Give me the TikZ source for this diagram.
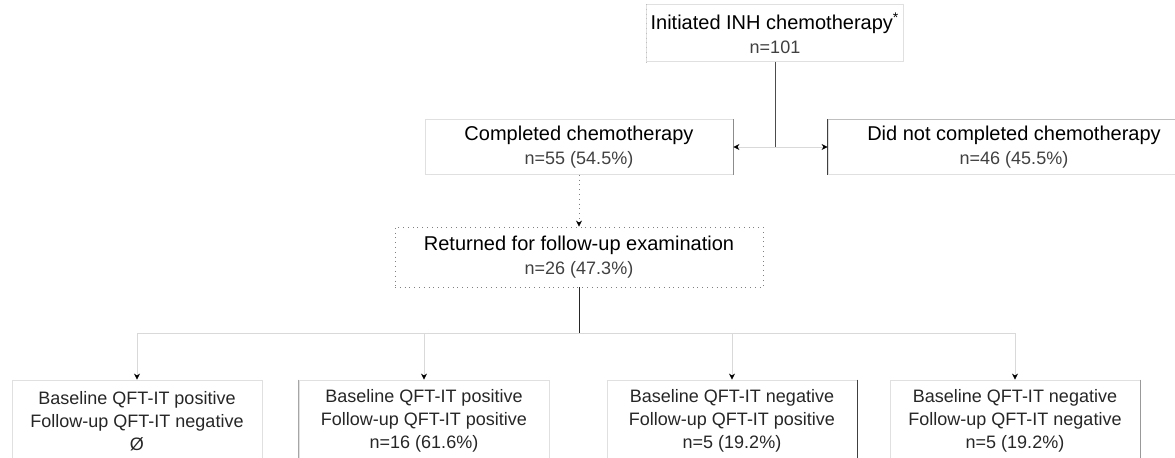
\documentclass[tikz,border=0pt]{standalone}
\usepackage{fontspec}
\setmainfont{Liberation Sans}
\usepackage{tikz}
\usetikzlibrary{positioning,arrows.meta}

\newcommand{\ncount}[1]{{\fontsize{9}{12}\selectfont\color{black!75}#1}}

\begin{document}
\begin{tikzpicture}[x=0.5pt,y=-0.5pt,on grid,
    >={Stealth[length=3pt,width=3pt,color=black]},
    hbox/.style={draw=black!12,align=center,font=\fontsize{10}{12}\selectfont,inner sep=2pt},
    qbox/.style={draw=black!12,align=center,font=\fontsize{9}{11.5}\selectfont,
                 text=black!85,minimum width=125pt,minimum height=41pt,inner sep=2pt},
    faint/.style={draw=black!15},
    edge/.style={draw=black!70}]
   \useasboundingbox (0,0) rectangle (1175,458);
   \clip (0,0) rectangle (1175,458);
   \node[hbox,minimum width=128pt,minimum height=28.5pt] (init) at (775,33)
        {Initiated INH chemotherapy\textsuperscript{*}\\ \ncount{n=101}};
   \node[hbox,minimum width=154pt,minimum height=27.5pt] (comp) [below left=57pt and 98pt of init]
        {Completed chemotherapy\\ \ncount{n=55 (54.5\%)}};
   \node[hbox,minimum width=186pt,minimum height=27.5pt] (dnc) [below right=57pt and 119.5pt of init]
        {Did not completed chemotherapy\\ \ncount{n=46 (45.5\%)}};
   \node[hbox,draw=black!50,dotted,minimum width=184pt,minimum height=30pt] (ret) [below=55pt of comp]
        {Returned for follow-up examination\\ \ncount{n=26 (47.3\%)}};
   \node[qbox] (posneg) [below left=82pt and 221pt of ret]
        {Baseline QFT-IT positive\\ Follow-up QFT-IT negative\\ Ø};
   \node[qbox] (pospos) [below left=82pt and 77.5pt of ret]
        {Baseline QFT-IT positive\\ Follow-up QFT-IT positive\\ n=16 (61.6\%)};
   \node[qbox] (negpos) [below right=82pt and 76.5pt of ret]
        {Baseline QFT-IT negative\\ Follow-up QFT-IT positive\\ n=5 (19.2\%)};
   \node[qbox] (negneg) [below right=82pt and 218pt of ret]
        {Baseline QFT-IT negative\\ Follow-up QFT-IT negative\\ n=5 (19.2\%)};
   % sides that still show
   \draw[black!25,dotted] (init.north west) -- (init.south west);
   \draw[black!45] (comp.north east) -- (comp.south east);
   \draw[black!75] (dnc.north west) -- (dnc.south west);
   \draw[black!25] (dnc.north west) -- (dnc.north east);
   \draw[black!35] (pospos.north west) -- (pospos.south west);
   \draw[black!75] (negpos.north east) -- (negpos.south east);
   \draw[black!40] (negneg.north east) -- (negneg.south east);
   % connectors
   \coordinate (split) at (init |- comp);
   \path (ret.south) ++(0,46) coordinate (fork);
   \draw[edge] (init) -- (split);
   \draw[faint,->] (split) -- (comp);
   \draw[faint,->] (split) -- (dnc);
   \draw[black!50,dotted,->] (comp) -- (ret);
   \draw[black!85] (ret) -- (fork);
   \draw[faint] (fork -| posneg) -- (fork -| negneg);
   \foreach \q in {posneg,pospos,negpos,negneg}
      \draw[faint,->] (fork -| \q) -- (\q);
\end{tikzpicture}
\end{document}
